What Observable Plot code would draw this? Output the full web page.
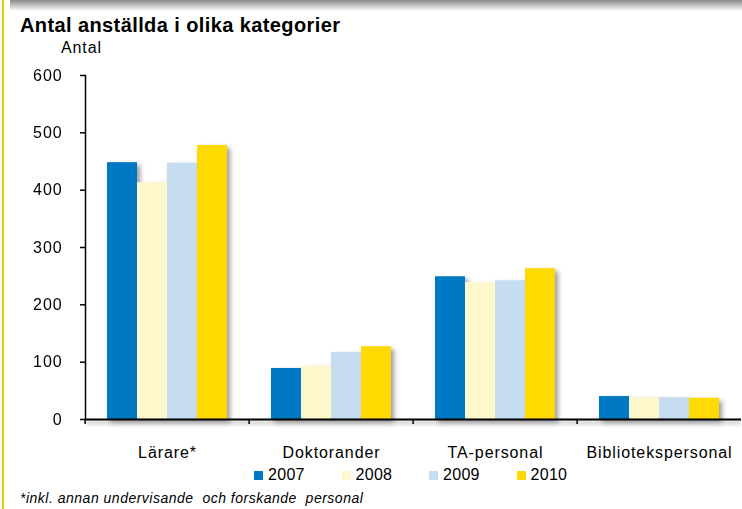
<!DOCTYPE html>
<html><head><meta charset="utf-8">
<script src="https://cdn.jsdelivr.net/npm/d3@7"></script>
<script src="https://cdn.jsdelivr.net/npm/@observablehq/plot@0.6"></script>
<style>
html,body{margin:0;padding:0;background:#fff;overflow:hidden;}
#wrap{position:relative;width:742px;height:509px;font-family:"Liberation Sans",Arial,sans-serif;color:#000;}
.topbar{position:absolute;left:10px;top:0;width:732px;height:11px;background:linear-gradient(#8a8a8a,#ffffff);}
.leftbar{position:absolute;left:2px;top:0;width:2px;height:509px;background:#F2C200;}
#title{position:absolute;left:20px;top:15px;font-size:20px;font-weight:bold;line-height:20px;white-space:nowrap;letter-spacing:0.4px;}
#ylab{position:absolute;left:61px;top:40px;font-size:16px;line-height:16px;letter-spacing:0.9px;}
#chart{position:absolute;left:0;top:60px;}
#chart svg text{letter-spacing:0.9px;}
#legend{position:absolute;left:254px;top:467px;display:flex;font-size:16px;line-height:16px;letter-spacing:0.3px;}
.item{width:87.5px;display:flex;align-items:flex-end;}
.sw{width:9px;height:9px;margin-right:5px;margin-bottom:3px;}
#note{position:absolute;left:20px;top:491px;font-size:14px;font-style:italic;line-height:14px;white-space:pre;letter-spacing:0.5px;}
</style>
</head>
<body>
<div id="wrap">
  <div class="topbar"></div>
  <div class="leftbar"></div>
  <div id="title">Antal anställda i olika kategorier</div>
  <div id="ylab">Antal</div>
  <div id="chart"></div>
  <div id="legend"></div>
  <div id="note"></div>
</div>
<script>
const categories = ["Lärare*", "Doktorander", "TA-personal", "Bibliotekspersonal"];
const years = ["2007", "2008", "2009", "2010"];
const v2007 = [448, 89, 249, 40];
const v2008 = [413, 93, 239, 38];
const v2009 = [447, 117, 242, 38];
const v2010 = [478, 127, 263, 37];
const yTicks = [0, 100, 200, 300, 400, 500, 600];
const colors = ["#0079C2", "#FFF8CC", "#C6DCF0", "#FFDA00"];
const footnote = "*inkl. annan undervisande  och forskande  personal";

const series = [v2007, v2008, v2009, v2010];
const data = years.flatMap((yr, j) => series[j].map((v, i) => ({category: categories[i], year: yr, value: v})));

const W = 742, ML = 83, MR = 0;
const half = (W - ML - MR) / categories.length / 2;

const plot = Plot.plot({
  width: W, height: 405,
  marginLeft: ML, marginRight: MR, marginTop: 15, marginBottom: 46,
  style: {fontFamily: '"Liberation Sans", Arial, sans-serif', fontSize: "16px", color: "#000", background: "transparent", overflow: "visible"},
  fx: {domain: categories, padding: 0},
  x: {domain: years, paddingInner: 0, paddingOuter: 0.7, axis: null},
  y: {domain: [0, 600]},
  color: {domain: years, range: colors},
  marks: [
    Plot.barY(data, {fx: "category", x: "year", y: "value", fill: "year"}),
    Plot.ruleY([0], {strokeWidth: 2}),
    Plot.frame({anchor: "left", facetAnchor: "left", strokeWidth: 1.5}),
    Plot.axisY({ticks: yTicks, tickSize: 5, tickPadding: 18, fontSize: 16, label: null, strokeWidth: 1.5}),
    Plot.axisFx({anchor: "bottom", tickSize: 0, tickPadding: 27, fontSize: 16, label: null}),
    Plot.axisFx({anchor: "bottom", tickSize: 5, tickFormat: () => "", label: null, dx: -half, strokeWidth: 1.5})
  ]
});
d3.select(plot).selectAll('g[aria-label="bar"]').style("filter", "drop-shadow(3px 3px 2.5px rgba(0,0,0,0.4))");
d3.select(plot).selectAll('g[aria-label="rule"]').style("filter", "drop-shadow(1px 3px 2px rgba(0,0,0,0.35))");
document.getElementById("chart").appendChild(plot);

const legend = d3.select("#legend");
years.forEach((yr, j) => {
  const it = legend.append("div").attr("class", "item");
  it.append("div").attr("class", "sw").style("background", colors[j]);
  it.append("span").text(yr);
});
document.getElementById("note").textContent = footnote;
</script>
</body></html>
